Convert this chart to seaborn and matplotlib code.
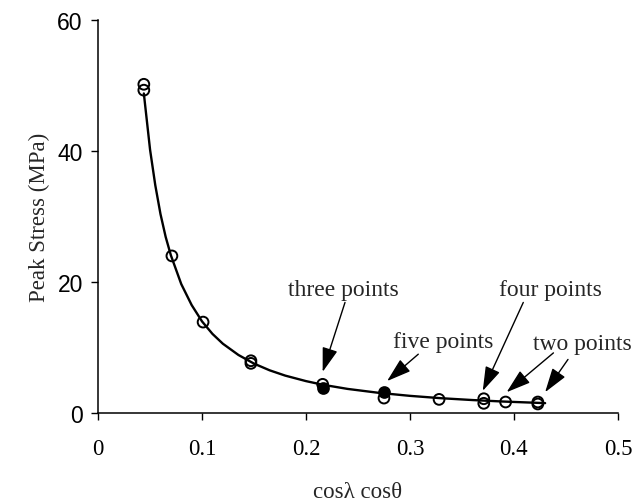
import matplotlib
matplotlib.use("Agg")
import matplotlib.pyplot as plt
import seaborn as sns
import pandas as pd

# open circles (measured points)
open_x = [0.044, 0.044, 0.071, 0.101, 0.147, 0.147, 0.216, 0.275, 0.328, 0.371, 0.371, 0.392, 0.423, 0.423]
open_y = [50.2, 49.3, 24.0, 13.9, 8.0, 7.6, 4.4, 2.3, 2.1, 2.2, 1.5, 1.7, 1.7, 1.4]
# filled circles
filled_x = [0.216, 0.275]
filled_y = [3.9, 3.2]

# fitted curve
curve_x = [0.044, 0.05, 0.055, 0.06, 0.065, 0.07, 0.08, 0.09, 0.10, 0.11, 0.12, 0.135,
           0.15, 0.165, 0.18, 0.20, 0.216, 0.24, 0.27, 0.30, 0.33, 0.36, 0.39, 0.43]
curve_y = [48.8, 40.2, 34.8, 30.4, 26.9, 24.1, 19.7, 16.5, 14.0, 12.1, 10.6, 8.88,
           7.56, 6.54, 5.73, 4.89, 4.34, 3.70, 3.10, 2.64, 2.28, 2.0, 1.77, 1.53]

x_ticks = [0, 0.1, 0.2, 0.3, 0.4, 0.5]
x_tick_labels = ["0", "0.1", "0.2", "0.3", "0.4", "0.5"]
y_ticks = [0, 20, 40, 60]
y_tick_labels = ["0", "20", "40", "60"]

# label text and its position
labels = ["three points", "five points", "four points", "two points"]
label_x = [0.236, 0.332, 0.435, 0.466]
label_y = [18.8, 11.0, 18.8, 10.6]
# arrows: start point -> tip
arrow_start_x = [0.2375, 0.308, 0.409, 0.438, 0.452]
arrow_start_y = [16.9, 9.0, 16.9, 9.2, 8.2]
arrow_tip_x = [0.216, 0.278, 0.370, 0.393, 0.430]
arrow_tip_y = [6.3, 4.9, 3.4, 3.2, 3.2]

sns.set_style("ticks")
plt.rcParams["font.family"] = ["Liberation Serif", "DejaVu Serif"]

fig = plt.figure(figsize=(6.37, 5.02), dpi=100)
ax = fig.add_axes([0.154, 0.175, 0.816, 0.783])

curve = pd.DataFrame({"x": curve_x, "y": curve_y})
sns.lineplot(data=curve, x="x", y="y", ax=ax, color="black", lw=1.7, sort=True)

pts = pd.DataFrame({"x": open_x, "y": open_y})
sns.scatterplot(data=pts, x="x", y="y", ax=ax, s=60, facecolor="none",
                edgecolor="black", linewidth=1.4, zorder=3)
fpts = pd.DataFrame({"x": filled_x, "y": filled_y})
sns.scatterplot(data=fpts, x="x", y="y", ax=ax, s=60, color="black",
                edgecolor="black", linewidth=1.4, zorder=3)

ax.set_xlim(0, 0.5)
ax.set_ylim(0, 60)
ax.set_xticks(x_ticks)
ax.set_xticklabels(x_tick_labels, fontsize=16.5, family="Liberation Serif")
ax.set_yticks(y_ticks)
ax.set_yticklabels(y_tick_labels, fontsize=16.5, family="Liberation Sans")
ax.tick_params(axis="both", direction="out", length=5, width=1, colors="black")
ax.tick_params(axis="x", pad=13)
ax.tick_params(axis="y", pad=6)
for s in ["top", "right"]:
    ax.spines[s].set_visible(False)
for s in ["left", "bottom"]:
    ax.spines[s].set_linewidth(1.1)
    ax.spines[s].set_color("black")

ax.set_xlabel("cosλ cosθ", fontsize=16.5, labelpad=16)
ax.set_ylabel("Peak Stress (MPa)", fontsize=16.5, labelpad=5)

for t, lx, ly in zip(labels, label_x, label_y):
    ax.text(lx, ly, t, ha="center", va="center", fontsize=17, clip_on=False)
for sx, sy, ex, ey in zip(arrow_start_x, arrow_start_y, arrow_tip_x, arrow_tip_y):
    ax.annotate("", xy=(ex, ey), xytext=(sx, sy), annotation_clip=False,
                arrowprops=dict(arrowstyle="-|>,head_length=0.75,head_width=0.24",
                                color="black", lw=1.0, mutation_scale=20,
                                shrinkA=0, shrinkB=0))

sns.despine(ax=ax)
fig.savefig("out.png", dpi=100)
